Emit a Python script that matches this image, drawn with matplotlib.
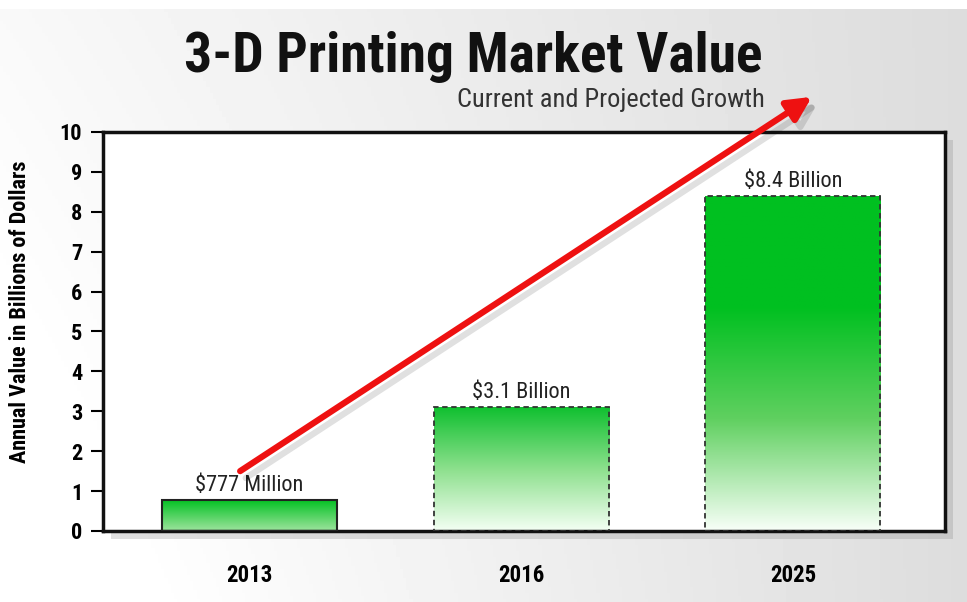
import numpy as np
import matplotlib
matplotlib.use("Agg")
import matplotlib.pyplot as plt
import matplotlib.patheffects as pe
from matplotlib.colors import LinearSegmentedColormap

years = ["2013", "2016", "2025"]
values = [0.777, 3.1, 8.4]
value_labels = ["$777 Million", "$3.1 Billion", "$8.4 Billion"]
y_ticks = list(range(0, 11))

plt.rcParams['font.family'] = ['Roboto Condensed', 'Archivo Narrow', 'DejaVu Sans']

fig = plt.figure(figsize=(9.67, 6.02), dpi=100)

# background gradient
bg = fig.add_axes([0, 0, 1, 1], zorder=-10)
xx = np.linspace(0, 1, 300)
yy = np.linspace(0, 1, 200)
X, Y = np.meshgrid(xx, yy)
shade = 0.975 - 0.11 * X + 0.05 * (1 - Y) * (1 - X)
shade = np.clip(shade, 0, 1)
shade[-3:, :] = 1.0
bg.imshow(shade, cmap="gray", vmin=0, vmax=1, aspect="auto", extent=(0, 1, 0, 1), origin="lower")
bg.axis("off")

ax = fig.add_axes([0.1065, 0.118, 0.8707, 0.6628])
ax.patch.set_facecolor("white")
ax.patch.set_path_effects([pe.SimplePatchShadow(offset=(6, -6), shadow_rgbFace="gray", alpha=0.25), pe.Normal()])

x = np.arange(len(years))
width = 0.645
bars = ax.bar(x, values, width=width, facecolor="none", zorder=3)

ramps = [
    ["#9ee49e", "#00c020"],
    ["#f4fff4", "#8de08d", "#10c030"],
    ["#f8fff8", "#60d060", "#00c020", "#00c020"],
]
for bar, cols, i in zip(bars, ramps, range(3)):
    cmap = LinearSegmentedColormap.from_list("g%d" % i, cols)
    x0 = bar.get_x()
    h = bar.get_height()
    grad = np.linspace(0, 1, 256).reshape(-1, 1)
    im = ax.imshow(grad, cmap=cmap, aspect="auto", origin="lower",
                   extent=(x0, x0 + width, 0, h), zorder=2)
    im.set_clip_path(bar)
    if i == 0:
        bar.set_edgecolor("#222222")
        bar.set_linewidth(1.5)
    else:
        bar.set_edgecolor("#333333")
        bar.set_linewidth(1.3)
        bar.set_linestyle((0, (3, 2)))

for xi, v, lab in zip(x, values, value_labels):
    ax.text(xi, v + 0.1, lab.replace("$", r"\$"), ha="center", va="bottom",
            fontsize=16, color="#222222", zorder=5)

ax.set_xlim(-0.54, 2.56)
ax.set_ylim(0, 10)
ax.set_yticks(y_ticks)
ax.set_yticklabels([str(t) for t in y_ticks], fontsize=16, fontweight="bold")
ax.set_xticks(x)
ax.set_xticklabels(years, fontsize=16.5, fontweight="bold")
ax.tick_params(axis="x", length=0, pad=24)
ax.tick_params(axis="y", length=9, width=1.5, direction="out", pad=6)
for s in ax.spines.values():
    s.set_linewidth(2.5)
    s.set_color("#111111")
ax.set_ylabel("Annual Value in Billions of Dollars", fontsize=16, fontweight="bold")
ax.yaxis.set_label_coords(-0.085, 0.55)

# growth arrow
ax.annotate("", xy=(2.07, 10.88), xytext=(-0.035, 1.5), xycoords="data",
            annotation_clip=False,
            arrowprops=dict(arrowstyle="-|>", mutation_scale=36, lw=4.5, color="#ee1111",
                            shrinkA=0, shrinkB=0,
                            path_effects=[pe.SimpleLineShadow(offset=(4, -5), alpha=0.12), pe.Normal()]),
            zorder=6)

fig.text(0.489, 0.905, "3-D Printing Market Value", ha="center", va="center",
         fontsize=40, fontweight="bold", color="#111111")
fig.text(0.791, 0.834, "Current and Projected Growth", ha="right", va="center",
         fontsize=19, color="#333333")

fig.savefig("out.png", dpi=100)
